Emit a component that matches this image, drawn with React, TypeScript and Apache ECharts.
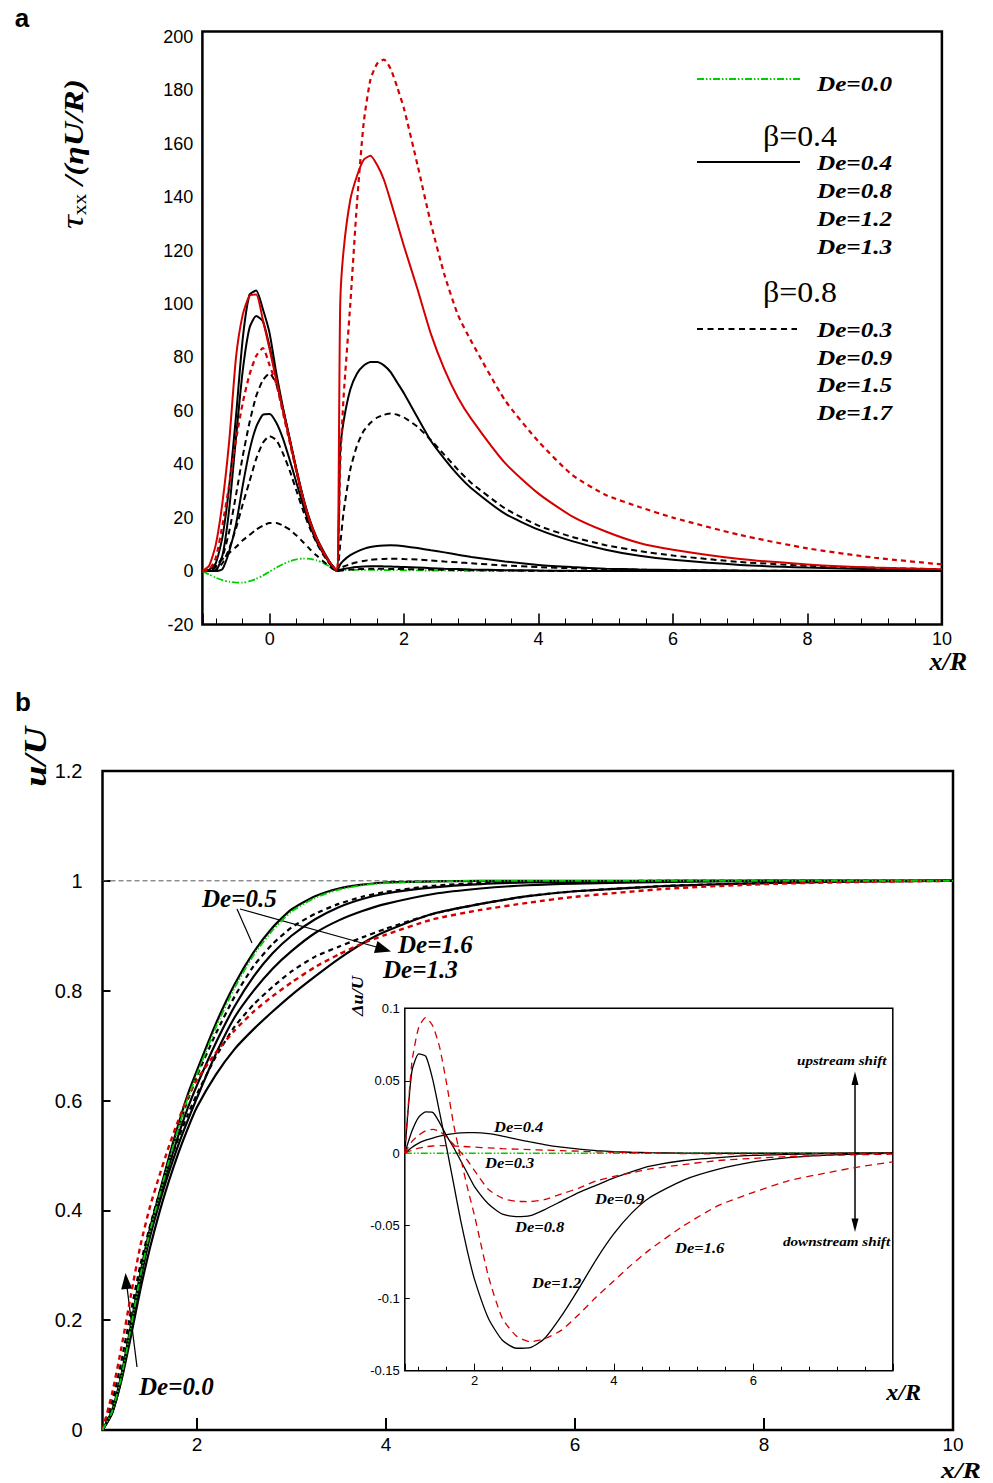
import React, { useEffect, useRef } from "react";
import * as echarts from "echarts";

// ---------------- Panel a : tau_xx /(eta U/R) versus x/R ----------------
const xA = [-1, -0.9, -0.8, -0.7, -0.6, -0.5, -0.4, -0.3, -0.2, -0.1, 0, 0.1, 0.2, 0.3, 0.4, 0.5, 0.6, 0.7, 0.8, 0.9, 1.0,
  1.05, 1.1, 1.2, 1.3, 1.4, 1.5, 1.6, 1.7, 1.8, 1.9, 2.0, 2.2, 2.4, 2.6, 2.8, 3.0, 3.5, 4.0, 4.5, 5.0, 5.5, 6.0, 7.0, 8.0, 9.0, 10.0];
const tauDe00 = [0, -1.3, -2.5, -3.4, -4.0, -4.3, -4.3, -3.8, -2.9, -1.7, -0.2, 1.3, 2.6, 3.7, 4.4, 4.7, 4.6, 4.0, 3.0, 1.6, 0,
  0.2, 0.3, 0.4, 0.45, 0.45, 0.45, 0.4, 0.4, 0.35, 0.35, 0.3, 0.25, 0.2, 0.15, 0.12, 0.1, 0.05, 0, 0, 0, 0, 0, 0, 0, 0, 0];
const tauB04De04 = [0, 0, 0, 0.8, 7.5, 17.5, 32, 45, 54, 58.5, 58.8, 55.5, 49.5, 41.5, 33, 24.5, 17, 11, 6.5, 2.8, 0,
  0.5, 0.8, 1.2, 1.5, 1.7, 1.8, 1.8, 1.75, 1.7, 1.6, 1.5, 1.3, 1.1, 0.9, 0.75, 0.6, 0.35, 0.2, 0.1, 0.05, 0, 0, 0, 0, 0, 0];
const tauB04De08 = [0, 0, 0.2, 6, 23.5, 50, 75, 91, 95.5, 93.5, 84, 72, 60.5, 49, 37.5, 27, 18.5, 12, 7, 3, 0,
  2.5, 4, 6, 7.3, 8.3, 9, 9.4, 9.6, 9.7, 9.6, 9.3, 8.6, 7.8, 7, 6.1, 5.3, 3.6, 2.3, 1.5, 0.9, 0.6, 0.4, 0.2, 0.1, 0, 0];
const tauB04De12 = [0, 0.5, 3, 13, 32, 58, 87, 103.5, 105, 98, 89, 74, 61, 49.5, 38, 27.5, 19, 12.5, 7.5, 3.2, 0,
  45, 56, 68, 74, 77, 78.3, 78.3, 77, 74.5, 70.5, 66.5, 57.5, 48.7, 42, 36, 31, 21.5, 15.5, 11.2, 8, 5.7, 4.2, 2.3, 1.3, 0.7, 0.4];
const tauB04De13 = [0, 2, 10, 26, 49, 80, 96, 103, 103.5, 94, 83, 71.5, 60, 49, 37.5, 27, 18.5, 12, 7, 3, 0,
  100, 120, 139, 148, 154, 155.5, 152, 146.5, 138.5, 130, 121.5, 105.5, 88.7, 75.5, 65, 57, 40.5, 29, 20.5, 14.8, 10.5, 8, 4.5, 2.5, 1.3, 0.7];
const tauB08De03 = [0, 0.5, 2, 4.5, 6.8, 9, 11.5, 13.5, 15.5, 17, 18, 18, 17, 15.5, 13.3, 10.8, 8.2, 5.8, 3.6, 1.6, 0,
  0.2, 0.35, 0.55, 0.7, 0.8, 0.85, 0.85, 0.85, 0.8, 0.78, 0.75, 0.65, 0.55, 0.48, 0.4, 0.33, 0.2, 0.1, 0.05, 0, 0, 0, 0, 0, 0, 0];
const tauB08De09 = [0, 0, 0.5, 3, 8.5, 16, 25, 33.5, 42, 48, 50.5, 49, 44, 37.5, 30, 22.5, 16, 10.5, 6, 2.5, 0,
  1, 1.7, 2.6, 3.3, 3.8, 4.2, 4.4, 4.55, 4.6, 4.6, 4.5, 4.3, 4, 3.6, 3.25, 2.9, 2.1, 1.5, 1.05, 0.75, 0.5, 0.35, 0.15, 0.05, 0, 0];
const tauB08De15 = [0, 0, 1.5, 5.5, 15, 28.5, 43, 55.5, 65.5, 71.5, 74, 70, 60, 49, 37.5, 27, 18.5, 12, 7, 3, 0,
  10, 22, 38, 47, 52.5, 55.5, 57.5, 58.5, 59, 58.5, 57.5, 54, 49, 43.5, 38, 33, 23.5, 17, 12.8, 9.7, 7.5, 5.8, 3.4, 2, 1.2, 0.7];
const tauB08De17 = [0, 0.5, 5, 17.5, 32.5, 49, 63, 73.5, 80.5, 83.5, 77, 70, 59, 48, 37, 27, 18.5, 12, 7, 3, 0,
  40, 65, 100, 138, 168, 184, 190, 191.5, 188, 181, 173, 152, 130, 111, 96, 86, 64, 48.5, 36, 28.5, 24, 20, 13.5, 8.5, 5, 2.5];

// ---------------- Panel b : u/U versus x/R ----------------
const xB = [1, 1.1, 1.2, 1.3, 1.4, 1.5, 1.6, 1.7, 1.8, 1.9, 2.0, 2.2, 2.4, 2.6, 2.8, 3.0, 3.25, 3.5, 3.75, 4.0, 4.5, 5.0, 5.5, 6.0, 7.0, 8.0, 9.0, 10.0];
const uDe00 = [0, 0.033, 0.097, 0.186, 0.28, 0.36, 0.425, 0.488, 0.548, 0.603, 0.648, 0.733, 0.806, 0.865, 0.91, 0.944, 0.969, 0.984, 0.992, 0.996, 0.999, 1, 1, 1, 1, 1, 1, 1];
const uSolid1 = [0, 0.035, 0.10, 0.19, 0.285, 0.365, 0.43, 0.495, 0.555, 0.61, 0.655, 0.74, 0.812, 0.87, 0.915, 0.948, 0.972, 0.986, 0.993, 0.997, 0.999, 1, 1, 1, 1, 1, 1, 1];
const uDash1 = [0, 0.038, 0.105, 0.195, 0.288, 0.365, 0.428, 0.49, 0.548, 0.60, 0.645, 0.722, 0.79, 0.845, 0.885, 0.915, 0.94, 0.958, 0.971, 0.98, 0.991, 0.996, 0.998, 0.999, 1, 1, 1, 1];
const uSolid2 = [0, 0.033, 0.097, 0.185, 0.278, 0.357, 0.42, 0.48, 0.535, 0.585, 0.628, 0.705, 0.772, 0.826, 0.868, 0.90, 0.93, 0.952, 0.967, 0.977, 0.988, 0.994, 0.997, 0.998, 1, 1, 1, 1];
const uSolid3 = [0, 0.03, 0.093, 0.18, 0.272, 0.35, 0.412, 0.468, 0.518, 0.563, 0.605, 0.685, 0.752, 0.80, 0.84, 0.872, 0.905, 0.928, 0.945, 0.958, 0.976, 0.986, 0.992, 0.995, 0.998, 1, 1, 1];
const uDash2 = [0, 0.05, 0.125, 0.215, 0.30, 0.37, 0.43, 0.482, 0.53, 0.573, 0.612, 0.68, 0.735, 0.775, 0.807, 0.835, 0.862, 0.88, 0.897, 0.913, 0.94, 0.958, 0.972, 0.981, 0.991, 0.996, 0.999, 1];
const uRedDash = [0, 0.065, 0.15, 0.245, 0.335, 0.405, 0.462, 0.515, 0.563, 0.605, 0.638, 0.687, 0.728, 0.762, 0.79, 0.815, 0.843, 0.866, 0.886, 0.902, 0.93, 0.947, 0.96, 0.971, 0.986, 0.994, 0.998, 1];
const uSolid4 = [0, 0.03, 0.09, 0.17, 0.255, 0.33, 0.395, 0.452, 0.503, 0.548, 0.588, 0.647, 0.694, 0.73, 0.762, 0.792, 0.826, 0.858, 0.886, 0.908, 0.94, 0.958, 0.972, 0.981, 0.991, 0.996, 0.999, 1];
const unitX = [1, 10];
const unitY = [1, 1];

// ---------------- Inset : Delta u / U versus x/R ----------------
const xI = [1, 1.1, 1.2, 1.3, 1.4, 1.5, 1.6, 1.7, 1.8, 1.9, 2.0, 2.2, 2.4, 2.6, 2.8, 3.0, 3.25, 3.5, 3.75, 4.0, 4.25, 4.5, 5.0, 5.5, 6.0, 6.5, 7.0, 7.5, 8.0];
const duDe00 = [0, 0, 0, 0, 0, 0, 0, 0, 0, 0, 0, 0, 0, 0, 0, 0, 0, 0, 0, 0, 0, 0, 0, 0, 0, 0, 0, 0, 0];
const duB04De04 = [0, 0.004, 0.007, 0.009, 0.0105, 0.0118, 0.0128, 0.0135, 0.014, 0.0142, 0.0142, 0.0135, 0.0118, 0.0097, 0.0078, 0.006, 0.0042, 0.0028, 0.0018, 0.0011, 0.0007, 0.0004, 0.0001, 0, 0, 0, 0, 0, 0];
const duB04De08 = [0, 0.015, 0.025, 0.0285, 0.0282, 0.021, 0.012, 0.004, -0.005, -0.014, -0.023, -0.035, -0.042, -0.0437, -0.043, -0.039, -0.033, -0.027, -0.022, -0.017, -0.0128, -0.009, -0.005, -0.003, -0.0015, -0.0008, -0.0003, 0, 0];
const duB04De12 = [0, 0.056, 0.0685, 0.067, 0.051, 0.028, 0.004, -0.021, -0.046, -0.068, -0.087, -0.114, -0.129, -0.1345, -0.134, -0.128, -0.112, -0.093, -0.073, -0.0555, -0.0415, -0.031, -0.0185, -0.011, -0.006, -0.003, -0.0014, -0.0005, 0];
const duB08De03 = [0, 0.002, 0.0035, 0.0045, 0.005, 0.0052, 0.0052, 0.005, 0.0048, 0.0045, 0.0042, 0.0037, 0.0032, 0.0028, 0.0025, 0.0022, 0.0018, 0.0014, 0.001, 0.0007, 0.0004, 0.0002, -0.0002, -0.0004, -0.0004, -0.0003, -0.0002, -0.0001, 0];
const duB08De09 = [0, 0.008, 0.0125, 0.0155, 0.0165, 0.015, 0.011, 0.006, 0.001, -0.005, -0.012, -0.025, -0.031, -0.0332, -0.0333, -0.032, -0.028, -0.024, -0.019, -0.016, -0.0135, -0.011, -0.0078, -0.005, -0.0035, -0.0023, -0.0015, -0.001, -0.0006];
const duB08De16 = [0, 0.062, 0.087, 0.0935, 0.088, 0.073, 0.048, 0.02, -0.003, -0.024, -0.043, -0.085, -0.114, -0.126, -0.13, -0.128, -0.122, -0.111, -0.099, -0.088, -0.077, -0.067, -0.05, -0.036, -0.027, -0.019, -0.014, -0.0095, -0.006];

const RED = "#d40000";
const GREEN = "#00cc00";
const SERIF = "'Liberation Serif', 'DejaVu Serif', serif";
const SANS = "'Liberation Sans', Arial, Helvetica, sans-serif";
const DASH = [6, 4];
const DASHDOT = [7, 2, 1.5, 2, 1.5, 2];

const pair = (xs: number[], ys: number[]) => xs.map((x, i) => [x, ys[i]]);

function line(idx: number, name: string, xs: number[], ys: number[], color: string, width: number, type: any, z = 3, smooth = 0.2) {
  return {
    type: "line",
    name,
    xAxisIndex: idx,
    yAxisIndex: idx,
    data: pair(xs, ys),
    symbol: "none",
    showSymbol: false,
    smooth,
    silent: true,
    z,
    lineStyle: { color, width, type },
  };
}

function txt(text: string, x: number, y: number, font: string, align = "left", extra: any = {}) {
  return {
    type: "text",
    x,
    y,
    silent: true,
    ...extra,
    style: {
      text,
      font,
      fill: "#000",
      align,
      textAlign: align,
      verticalAlign: "middle",
      textVerticalAlign: "middle",
    },
  };
}

function seg(x1: number, y1: number, x2: number, y2: number, width = 1.2, color = "#000", dash: any = null) {
  return {
    type: "line",
    silent: true,
    shape: { x1, y1, x2, y2 },
    style: { stroke: color, lineWidth: width, lineDash: dash },
  };
}

function tri(points: number[][]) {
  return { type: "polygon", silent: true, shape: { points }, style: { fill: "#000" } };
}

export default function App() {
  const ref = useRef<HTMLDivElement>(null);

  useEffect(() => {
    document.body.style.margin = "0";
    const chart = echarts.init(ref.current as HTMLDivElement, null, { renderer: "svg" });

    const labelA = { fontSize: 18, color: "#000", fontFamily: SANS };
    const deFontA = `italic bold 21px ${SERIF}`;
    const deFontB = `italic bold 25px ${SERIF}`;
    const deFontI = `italic bold 14px ${SERIF}`;
    const noLine = { show: false, onZero: false };

    const option: any = {
      animation: false,
      backgroundColor: "#fff",
      grid: [
        { left: 202.4, top: 31.5, width: 739.5, height: 593, show: true, borderColor: "#000", borderWidth: 2.5, backgroundColor: "transparent" },
        { left: 102.5, top: 771, width: 850.5, height: 659, show: true, borderColor: "#000", borderWidth: 2.5, backgroundColor: "transparent" },
        { left: 404.8, top: 1008.3, width: 488, height: 362.4, show: true, borderColor: "#000", borderWidth: 1.5, backgroundColor: "transparent" },
      ],
      xAxis: [
        {
          gridIndex: 0, type: "value", min: -1, max: 10, minInterval: 2, maxInterval: 2, splitNumber: 5,
          axisLine: noLine, splitLine: { show: false },
          axisTick: { show: true, inside: true, length: 11, lineStyle: { color: "#000", width: 1.6 } },
          minorTick: { show: true, splitNumber: 5, length: 6, lineStyle: { color: "#000", width: 1 } },
          axisLabel: { ...labelA, margin: 5, showMinLabel: false, showMaxLabel: true },
        },
        {
          gridIndex: 1, type: "value", min: 1, max: 10, minInterval: 2, maxInterval: 2, splitNumber: 5,
          axisLine: noLine, splitLine: { show: false },
          axisTick: { show: true, inside: true, length: 12, lineStyle: { color: "#000", width: 2 } },
          axisLabel: { fontSize: 19, color: "#000", fontFamily: SANS, margin: 5, showMinLabel: false, showMaxLabel: true },
        },
        {
          gridIndex: 2, type: "value", min: 1, max: 8, minInterval: 2, maxInterval: 2, splitNumber: 4,
          axisLine: noLine, splitLine: { show: false },
          axisTick: { show: true, inside: true, length: 7, lineStyle: { color: "#000", width: 1 } },
          minorTick: { show: true, splitNumber: 5, length: 4, lineStyle: { color: "#000", width: 1 } },
          axisLabel: { fontSize: 13, color: "#000", fontFamily: SANS, margin: 3, showMinLabel: false, showMaxLabel: false },
        },
      ],
      yAxis: [
        {
          gridIndex: 0, type: "value", min: -20, max: 202, interval: 20,
          axisLine: noLine, splitLine: { show: false }, axisTick: { show: false },
          axisLabel: { ...labelA, margin: 9, showMinLabel: true, showMaxLabel: false },
        },
        {
          gridIndex: 1, type: "value", min: 0, max: 1.2, interval: 0.2,
          axisLine: noLine, splitLine: { show: false },
          axisTick: { show: true, inside: true, length: 8, lineStyle: { color: "#000", width: 2 } },
          axisLabel: { fontSize: 20, color: "#000", fontFamily: SANS, margin: 20, showMinLabel: true, showMaxLabel: true },
        },
        {
          gridIndex: 2, type: "value", min: -0.15, max: 0.1, interval: 0.05,
          axisLine: noLine, splitLine: { show: false },
          axisTick: { show: true, inside: true, length: 5, lineStyle: { color: "#000", width: 1 } },
          axisLabel: { fontSize: 13, color: "#000", fontFamily: SANS, margin: 5, showMinLabel: true, showMaxLabel: true },
        },
      ],
      series: [
        // panel a
        line(0, "De=0.0", xA, tauDe00, GREEN, 1.8, DASHDOT, 3),
        line(0, "β=0.4 De=0.4", xA, tauB04De04, "#000", 2, "solid"),
        line(0, "β=0.4 De=0.8", xA, tauB04De08, "#000", 2, "solid"),
        line(0, "β=0.4 De=1.2", xA, tauB04De12, "#000", 2, "solid"),
        line(0, "β=0.8 De=0.3", xA, tauB08De03, "#000", 2, DASH),
        line(0, "β=0.8 De=0.9", xA, tauB08De09, "#000", 2, DASH),
        line(0, "β=0.8 De=1.5", xA, tauB08De15, "#000", 2, DASH),
        line(0, "β=0.4 De=1.3", xA, tauB04De13, RED, 2, "solid", 4),
        line(0, "β=0.8 De=1.7", xA, tauB08De17, RED, 2.2, [5, 4], 4),
        // panel b
        line(1, "u=1", unitX, unitY, "#555", 1, [5, 3], 1, 0),
        line(1, "solid 4", xB, uSolid4, "#000", 2.2, "solid"),
        line(1, "solid 3", xB, uSolid3, "#000", 2.2, "solid"),
        line(1, "solid 2", xB, uSolid2, "#000", 2.2, "solid"),
        line(1, "dash 2", xB, uDash2, "#000", 2.2, [5, 4]),
        line(1, "dash 1", xB, uDash1, "#000", 2.2, [5, 4]),
        line(1, "solid 1", xB, uSolid1, "#000", 2.2, "solid"),
        line(1, "red dash", xB, uRedDash, RED, 2.4, [5, 4], 4),
        line(1, "De=0.0", xB, uDe00, GREEN, 1.8, DASHDOT, 4),
        // inset
        line(2, "De=0.0", xI, duDe00, GREEN, 1.6, DASHDOT, 3, 0),
        line(2, "De=0.4", xI, duB04De04, "#000", 1.3, "solid"),
        line(2, "De=0.8", xI, duB04De08, "#000", 1.3, "solid"),
        line(2, "De=1.2", xI, duB04De12, "#000", 1.3, "solid"),
        line(2, "De=0.3", xI, duB08De03, RED, 1.3, [7, 5], 4),
        line(2, "De=0.9", xI, duB08De09, RED, 1.3, [7, 5], 4),
        line(2, "De=1.6", xI, duB08De16, RED, 1.3, [7, 5], 4),
      ],
      graphic: [
        // panel letters
        txt("a", 22, 18, `bold 26px ${SANS}`, "center"),
        txt("b", 23, 702, `bold 26px ${SANS}`, "center"),
        // panel a axis titles
        {
          type: "text", x: 73, y: 154, rotation: Math.PI / 2, scaleX: 1.2, silent: true,
          style: {
            text: "{t|τ}{s|xx}{r| /(ηU/R)}",
            align: "center", textAlign: "center", verticalAlign: "middle", textVerticalAlign: "middle",
            fill: "#000",
            rich: {
              t: { font: `italic 32px ${SERIF}`, fill: "#000" },
              s: { font: `18px ${SERIF}`, fill: "#000", verticalAlign: "bottom" },
              r: { font: `italic bold 28px ${SERIF}`, fill: "#000" },
            },
          },
        },
        txt("x/R", 967, 661, `italic bold 26px ${SERIF}`, "right"),
        // legend panel a
        seg(697, 79, 800, 79, 1.8, GREEN, DASHDOT),
        txt("De=0.0", 817, 84, deFontA, "left", { scaleX: 1.2 }),
        txt("β=0.4", 800, 136, `29px ${SERIF}`, "center", { scaleX: 1.1 }),
        seg(697, 162, 800, 162, 2, "#000"),
        txt("De=0.4", 817, 163, deFontA, "left", { scaleX: 1.2 }),
        txt("De=0.8", 817, 191, deFontA, "left", { scaleX: 1.2 }),
        txt("De=1.2", 817, 219, deFontA, "left", { scaleX: 1.2 }),
        txt("De=1.3", 817, 247, deFontA, "left", { scaleX: 1.2 }),
        txt("β=0.8", 800, 292, `29px ${SERIF}`, "center", { scaleX: 1.1 }),
        seg(697, 329, 797, 329, 2, "#000", [6, 4.5]),
        txt("De=0.3", 817, 330, deFontA, "left", { scaleX: 1.2 }),
        txt("De=0.9", 817, 358, deFontA, "left", { scaleX: 1.2 }),
        txt("De=1.5", 817, 385, deFontA, "left", { scaleX: 1.2 }),
        txt("De=1.7", 817, 413, deFontA, "left", { scaleX: 1.2 }),
        // panel b axis titles
        txt("u/U", 36, 757, `italic bold 32px ${SERIF}`, "center", { rotation: Math.PI / 2, scaleX: 1.2 }),
        txt("x/R", 981, 1470, `italic bold 24px ${SERIF}`, "right", { scaleX: 1.15 }),
        // panel b annotations
        txt("De=0.5", 202, 898, deFontB),
        seg(237, 909, 252, 943, 1.2),
        seg(240, 909, 380, 948, 1.2),
        tri([[391, 951.5], [374, 953], [377.5, 941]]),
        txt("De=1.6", 398, 944, deFontB),
        txt("De=1.3", 383, 969, deFontB),
        txt("De=0.0", 139, 1386, deFontB),
        seg(137, 1367, 127, 1287, 1.2),
        tri([[125.5, 1273], [132.2, 1288.5], [121.2, 1289.5]]),
        // inset titles and annotations
        txt("Δu/U", 358, 996, `italic bold 16px ${SERIF}`, "center", { rotation: Math.PI / 2, scaleX: 1.15 }),
        txt("x/R", 921, 1392, `italic bold 24px ${SERIF}`, "right"),
        txt("De=0.4", 494, 1127, deFontI, "left", { scaleX: 1.18 }),
        txt("De=0.3", 485, 1163, deFontI, "left", { scaleX: 1.18 }),
        txt("De=0.9", 595, 1199, deFontI, "left", { scaleX: 1.18 }),
        txt("De=0.8", 515, 1227, deFontI, "left", { scaleX: 1.18 }),
        txt("De=1.6", 675, 1248, deFontI, "left", { scaleX: 1.18 }),
        txt("De=1.2", 532, 1283, deFontI, "left", { scaleX: 1.18 }),
        txt("upstream shift", 797, 1060, `italic bold 13.5px ${SERIF}`, "left", { scaleX: 1.12 }),
        txt("downstream shift", 783, 1241, `italic bold 13.5px ${SERIF}`, "left", { scaleX: 1.12 }),
        seg(855, 1080, 855, 1224, 1.5),
        tri([[855, 1071.5], [851.5, 1085], [858.5, 1085]]),
        tri([[855, 1232], [851.5, 1218.5], [858.5, 1218.5]]),
      ],
    };

    chart.setOption(option);
    return () => chart.dispose();
  }, []);

  return <div ref={ref} style={{ width: 993, height: 1483 }} />;
}
